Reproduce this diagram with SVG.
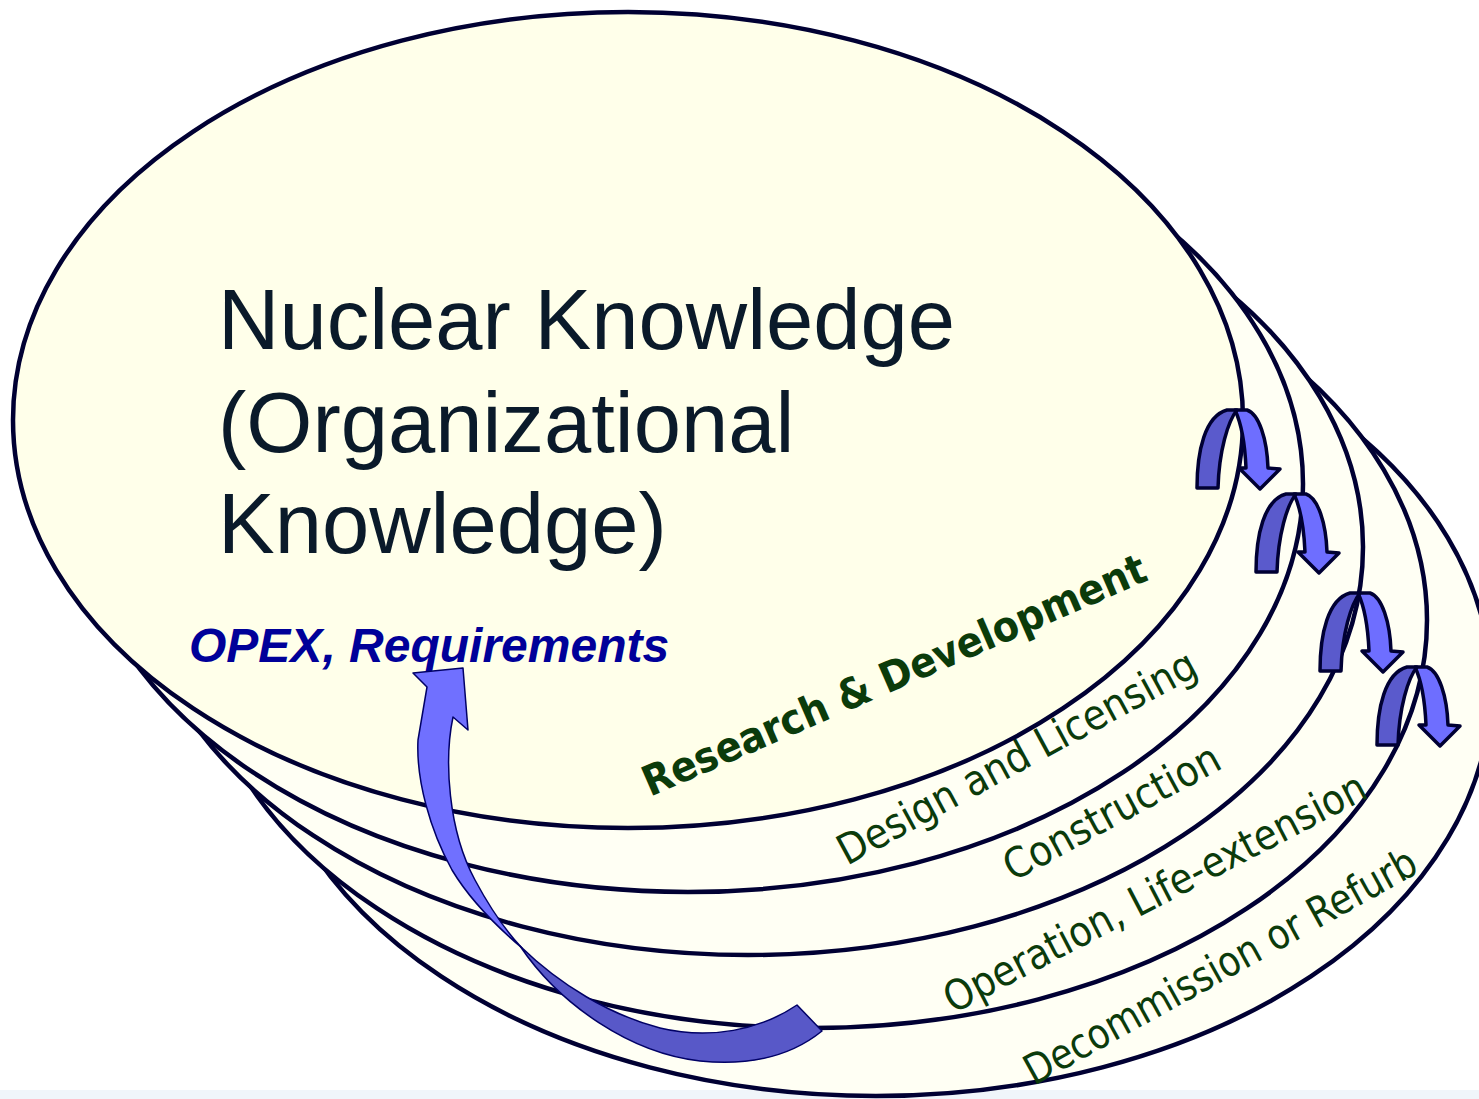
<svg xmlns="http://www.w3.org/2000/svg" xmlns:xlink="http://www.w3.org/1999/xlink" width="1479" height="1099" viewBox="0 0 1479 1099">
<style>
.ring{stroke:#000033;stroke-width:4.5}
.back{fill:#fffff4}
.front{fill:#ffffea}
.stage{font-family:"DejaVu Sans","Verdana",sans-serif;font-size:42px;fill:#0b3b0b}
.title{font-family:"Liberation Sans",Arial,sans-serif;font-size:85px;fill:#0a1a2a}
.opex{font-family:"Liberation Sans",Arial,sans-serif;font-size:48px;font-weight:bold;font-style:italic;fill:#000099}
.ul{fill:#6e6eff;stroke:#000033;stroke-width:3.5;stroke-linejoin:round}
.ud{fill:#5a5acc;stroke:#000033;stroke-width:3.5;stroke-linejoin:round}
.bl{fill:#7070ff;stroke:#000066;stroke-width:1.5;stroke-linejoin:round}
.bd{fill:#5858c8;stroke:#000066;stroke-width:1.5;stroke-linejoin:round}
</style>
<defs>
<g id="uturn">
<path class="ul" d="M38,1 L50,1 C62,5 70,30 71,59 L83,60 L63,80 L42,59 L49,59 C48,36 45,16 38,1 Z"/>
<path class="ud" d="M0,79 C0,42 8,7 30,1 L40,1 C31,12 22,42 21,79 Z"/>
</g>
</defs>
<rect x="0" y="0" width="1479" height="1099" fill="#ffffff"/>
<rect x="0" y="1090" width="1479" height="9" fill="#f0f5fa"/>
<g id="stage-decommission">
<ellipse class="ring back" cx="876" cy="688" rx="615" ry="408"/>
<text class="stage" font-size="41" transform="translate(1034,1086) rotate(-29)" textLength="442" lengthAdjust="spacingAndGlyphs">Decommission or Refurb</text>
</g>
<g id="stage-operation">
<ellipse class="ring back" cx="812" cy="620" rx="615" ry="408"/>
<text class="stage" transform="translate(953,1014) rotate(-27.5)" textLength="470" lengthAdjust="spacingAndGlyphs">Operation, Life-extension</text>
</g>
<g id="stage-construction">
<ellipse class="ring back" cx="748" cy="547" rx="615" ry="408"/>
<text class="stage" transform="translate(1013,882) rotate(-28.5)" textLength="240" lengthAdjust="spacingAndGlyphs">Construction</text>
</g>
<g id="stage-design">
<ellipse class="ring back" cx="688" cy="484" rx="615" ry="408"/>
<text class="stage" transform="translate(847,866) rotate(-28.5)" textLength="402" lengthAdjust="spacingAndGlyphs">Design and Licensing</text>
</g>
<g id="stage-research">
<ellipse class="ring front" cx="628" cy="420" rx="615" ry="408"/>
<text class="title" x="218" y="349">Nuclear Knowledge</text>
<text class="title" x="218" y="452">(Organizational</text>
<text class="title" x="218" y="553">Knowledge)</text>
<text class="opex" x="189" y="662">OPEX, Requirements</text>
<text class="stage" font-weight="bold" font-size="47" transform="translate(650,797) rotate(-23.5)" textLength="545" lengthAdjust="spacingAndGlyphs">Research &amp; Development</text>
</g>
<g id="connectors">
<use xlink:href="#uturn" href="#uturn" transform="translate(1197,409)"/>
<use xlink:href="#uturn" href="#uturn" transform="translate(1256,493)"/>
<use xlink:href="#uturn" href="#uturn" transform="translate(1320,592)"/>
<use xlink:href="#uturn" href="#uturn" transform="translate(1377,666)"/>
<path class="bd" d="M520,946 C560,985 610,1015 660,1028 C710,1040 760,1030 797,1005 L822,1031 C790,1057 750,1066 700,1061 C630,1053 560,1005 520,946 Z"/>
<path class="bl" d="M413,673 L463,668 L468,730 L453,717 C444,760 448,830 475,880 C490,908 503,928 522,948 C495,925 470,900 452,870 C430,830 416,780 418,740 L427,687 Z"/>
</g>
</svg>
